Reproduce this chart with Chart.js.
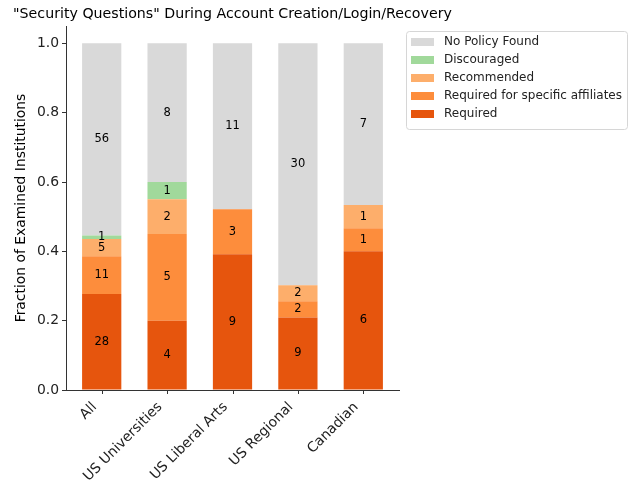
<!DOCTYPE html>
<html lang="en">
<head>
  <meta charset="UTF-8">
  <title>Security Questions</title>
  <script src="https://cdn.jsdelivr.net/npm/chart.js@4.4.0/dist/chart.umd.min.js"></script>
  <style>
    html, body { margin: 0; padding: 0; background: #fff; }
    #wrap { width: 634px; height: 488px; }
  </style>
</head>
<body>
  <div id="wrap"><canvas id="chart" width="634" height="488"></canvas></div>

  <script>
    // institution groups and counts per policy
    const groups = ["All", "US Universities", "US Liberal Arts", "US Regional", "Canadian"];
    const required = [28, 4, 9, 9, 6];
    const requiredAffiliates = [11, 5, 3, 2, 1];
    const recommended = [5, 2, 0, 2, 1];
    const discouraged = [1, 1, 0, 0, 0];
    const noPolicy = [56, 8, 11, 30, 7];
    const yTicks = [0, 0.2, 0.4, 0.6, 0.8, 1.0];

    const FONT = "'DejaVu Sans', sans-serif";
    const FS = 13.9;

    const totals = groups.map((_, i) =>
      required[i] + requiredAffiliates[i] + recommended[i] + discouraged[i] + noPolicy[i]);
    const frac = arr => arr.map((v, i) => ({ x: i, y: v / totals[i] }));

    const series = [
      { label: "Required", counts: required, color: "#e6550d" },
      { label: "Required for specific affiliates", counts: requiredAffiliates, color: "#fd8d3c" },
      { label: "Recommended", counts: recommended, color: "#fdae6b" },
      { label: "Discouraged", counts: discouraged, color: "#a1d99b" },
      { label: "No Policy Found", counts: noPolicy, color: "#d9d9d9" }
    ];

    // texts, count labels, x ticks and legend drawn by hand
    const extras = {
      id: "extras",
      afterDatasetsDraw(chart) {
        const ctx = chart.ctx;
        const area = chart.chartArea;
        ctx.save();
        ctx.fillStyle = "#000";
        ctx.textAlign = "center";
        ctx.textBaseline = "middle";
        ctx.font = "11.5px " + FONT;
        chart.data.datasets.forEach((ds, di) => {
          const meta = chart.getDatasetMeta(di);
          meta.data.forEach((bar, i) => {
            const n = series[di].counts[i];
            if (!n) return;
            ctx.fillText(String(n), bar.x, (bar.y + bar.base) / 2);
          });
        });

        // x tick marks
        ctx.strokeStyle = "#333";
        ctx.lineWidth = 1;
        groups.forEach((_, i) => {
          const px = Math.round(chart.scales.x.getPixelForValue(i)) + 0.5;
          ctx.beginPath();
          ctx.moveTo(px, area.bottom);
          ctx.lineTo(px, area.bottom + 4);
          ctx.stroke();
        });

        // title
        ctx.font = "14.2px " + FONT;
        ctx.fillText('"Security Questions" During Account Creation/Login/Recovery',
          (area.left + area.right) / 2, 14);

        // y title
        ctx.save();
        ctx.translate(21, (area.top + area.bottom) / 2);
        ctx.rotate(-Math.PI / 2);
        ctx.font = FS + "px " + FONT;
        ctx.fillText("Fraction of Examined Institutions", 0, 0);
        ctx.restore();

        // legend
        const lx = 406, ly = 31, lw = 221, lh = 98;
        ctx.fillStyle = "rgba(255,255,255,0.8)";
        ctx.strokeStyle = "#d6d6d6";
        ctx.beginPath();
        ctx.roundRect(lx + 0.5, ly + 0.5, lw, lh, 3);
        ctx.fill();
        ctx.stroke();
        ctx.textAlign = "left";
        ctx.font = "12px " + FONT;
        series.slice().reverse().forEach((s, k) => {
          const cy = 42 + k * 18;
          ctx.fillStyle = s.color;
          ctx.fillRect(411, cy - 4, 23, 8);
          ctx.fillStyle = "#222";
          ctx.fillText(s.label, 444, cy);
        });
        ctx.restore();
      }
    };

    new Chart(document.getElementById("chart"), {
      type: "bar",
      data: {
        datasets: series.map(s => ({
          label: s.label,
          data: frac(s.counts),
          backgroundColor: s.color,
          borderWidth: 0,
          barPercentage: 1,
          categoryPercentage: 0.6
        }))
      },
      options: {
        responsive: false,
        animation: false,
        layout: { padding: { left: 0, top: 26, right: 235, bottom: 0 } },
        plugins: { legend: { display: false }, tooltip: { enabled: false }, title: { display: false } },
        scales: {
          x: {
            type: "linear",
            stacked: true,
            offset: false,
            min: -0.546, max: 4.546,
            grid: { drawOnChartArea: false, drawTicks: true, tickLength: 4, color: "rgba(0,0,0,0)" },
            border: { display: true, color: "#333", width: 1 },
            ticks: {
              color: "#222",
              font: { family: FONT, size: FS },
              minRotation: 45, maxRotation: 45,
              padding: 5,
              labelOffset: -7,
              callback: v => groups[v]
            },
            afterBuildTicks(scale) { scale.ticks = groups.map((_, i) => ({ value: i })); },
            afterFit(scale) { scale.height = 98; }
          },
          y: {
            stacked: true,
            min: 0, max: 1.05,
            grid: { drawOnChartArea: false, drawTicks: true, tickLength: 4, color: "#333" },
            border: { display: true, color: "#333", width: 1 },
            ticks: {
              color: "#222",
              font: { family: FONT, size: FS },
              padding: 3,
              callback: v => v.toFixed(1)
            },
            afterBuildTicks(scale) { scale.ticks = yTicks.map(v => ({ value: v })); },
            afterFit(scale) { scale.width = 66; }
          }
        }
      },
      plugins: [extras]
    });
  </script>
</body>
</html>
